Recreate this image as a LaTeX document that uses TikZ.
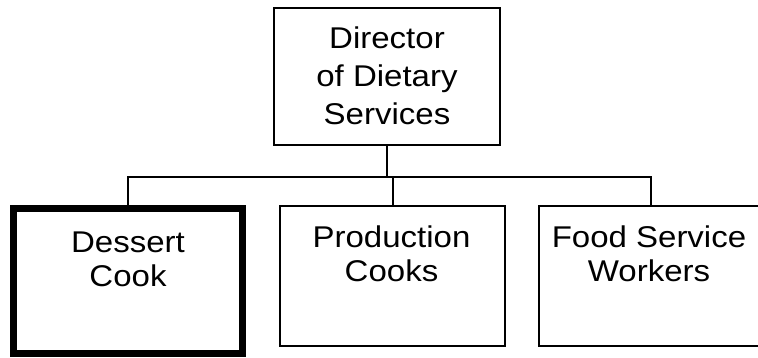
\documentclass[tikz,border=0pt]{standalone}
\usepackage{fontspec}
\setmainfont{Liberation Sans}[FakeStretch=1.1]
\begin{document}
\begin{tikzpicture}[x=1pt,y=-1pt,
  box/.style={draw=black,line width=2pt,rectangle,inner sep=0pt,outer sep=0pt},
  thickbox/.style={draw=black,line width=7pt,rectangle,inner sep=0pt,outer sep=0pt},
  wire/.style={draw=black,line width=2pt},
  lbl/.style={anchor=base,inner sep=0pt,outer sep=0pt}]
\useasboundingbox (0,0) rectangle (758,358);
% boxes
\node[box,minimum width=226pt,minimum height=137.5pt] (dir) at (387,76.75) {};
\node[thickbox,minimum width=229pt,minimum height=144.5pt] (dessert) at (128,280.75) {};
\node[box,minimum width=225pt,minimum height=139.5pt] (prod) at (392.5,275.75) {};
\node[box,minimum width=224pt,minimum height=139.5pt] (food) at (651,275.75) {};
% texts
\node[lbl] (tdir) at (387,48.3) {\fontsize{30}{38.3}\selectfont\begin{tabular}[t]{@{}c@{}}Director\\of Dietary\\Services\end{tabular}};
\node[lbl] (tdes) at (128,252.3) {\fontsize{30}{34.4}\selectfont\begin{tabular}[t]{@{}c@{}}Dessert\\Cook\end{tabular}};
\node[lbl] (tprod) at (391.5,247.3) {\fontsize{30}{34.4}\selectfont\begin{tabular}[t]{@{}c@{}}Production\\Cooks\end{tabular}};
\node[lbl] (tfood) at (649,247.3) {\fontsize{30}{34.4}\selectfont\begin{tabular}[t]{@{}c@{}}Food Service\\Workers\end{tabular}};
% connectors
\coordinate (bus) at (387,177);
\draw[wire] (dir.south) -- (bus);
\draw[wire] (dessert.north) |- (bus) -| (food.north);
\draw[wire] (prod.north) -- (prod.north |- bus);
\end{tikzpicture}
\end{document}
